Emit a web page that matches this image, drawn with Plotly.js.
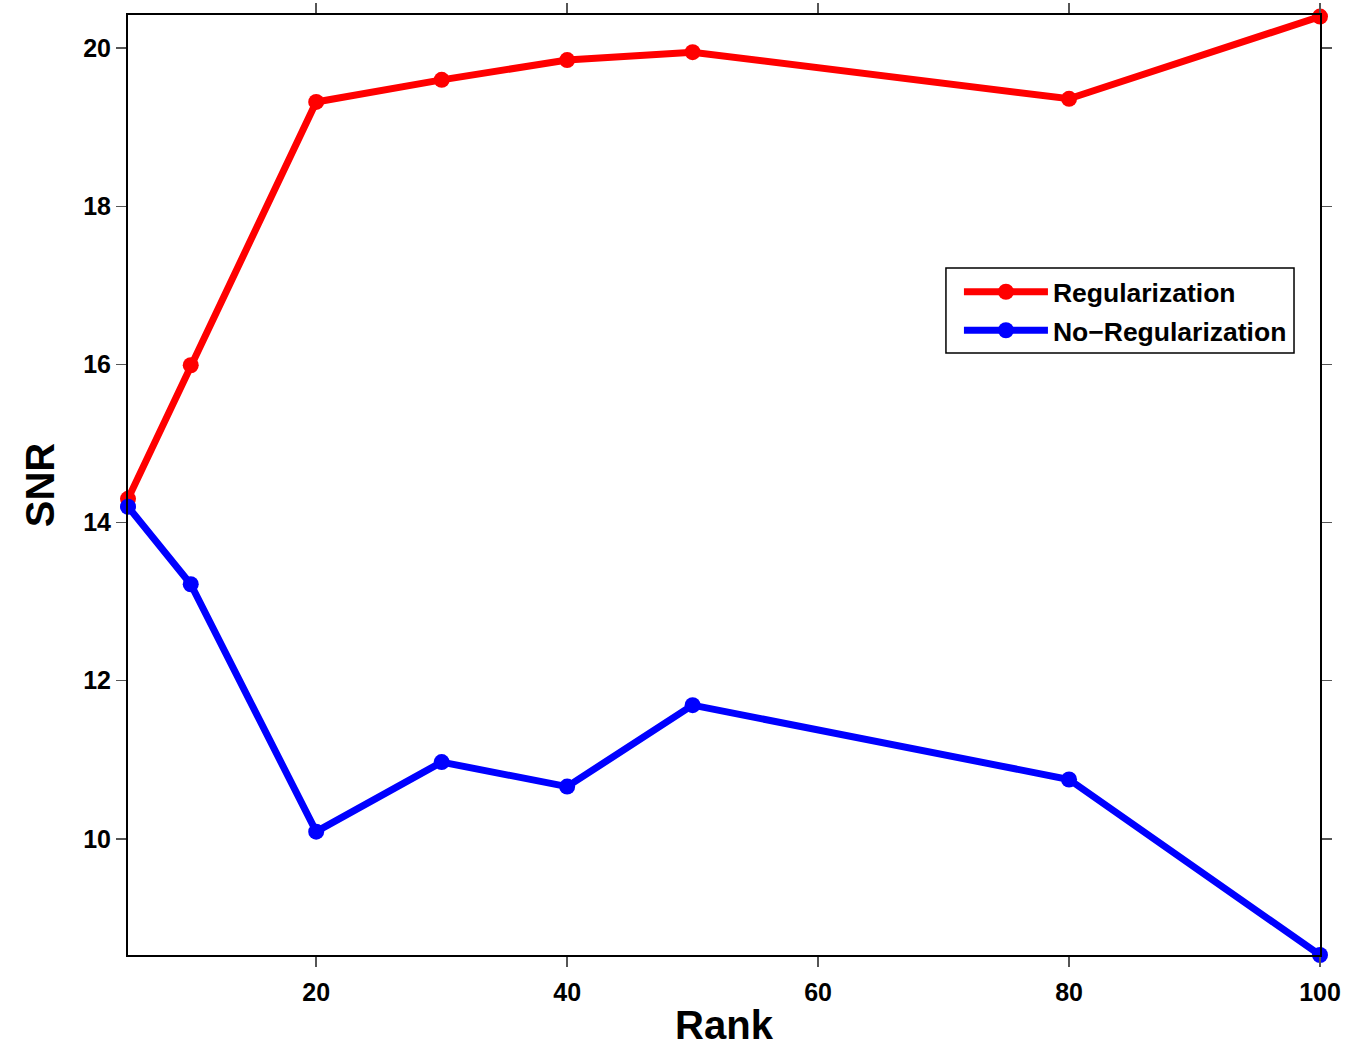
<!DOCTYPE html>
<html>
<head>
<meta charset="utf-8">
<script src="https://cdn.plot.ly/plotly-3.0.1.min.js"></script>
<style>
  html, body { margin: 0; padding: 0; background: #fff; }
  #chart { width: 1347px; height: 1047px; }
</style>
</head>
<body>
<div id="chart"></div>
<script>
// Rank values evaluated
const rank = [5, 10, 20, 30, 40, 50, 80, 100];
// SNR with and without regularization
const snrRegularized = [14.30, 15.99, 19.32, 19.60, 19.85, 19.95, 19.36, 20.40];
const snrUnregularized = [14.20, 13.22, 10.09, 10.97, 10.66, 11.69, 10.75, 8.53];
const seriesNames = ['Regularization', 'No\u2212Regularization'];
const xTicks = [20, 40, 60, 80, 100];
const yTicks = [10, 12, 14, 16, 18, 20];

const font = 'Liberation Sans, Arial, Helvetica, sans-serif';

const traces = [
  {
    x: rank, y: snrRegularized, name: seriesNames[0], legendgroup: 'reg',
    type: 'scatter', mode: 'lines+markers',
    line: { color: '#ff0000', width: 7 },
    marker: { color: '#ff0000', size: 16, symbol: 'circle' },
    cliponaxis: false
  },
  {
    x: rank, y: snrUnregularized, name: seriesNames[1], legendgroup: 'noreg',
    type: 'scatter', mode: 'lines+markers',
    line: { color: '#0000ff', width: 7 },
    marker: { color: '#0000ff', size: 16, symbol: 'circle' },
    cliponaxis: false
  }
];

const axisCommon = {
  showgrid: false, zeroline: false,
  showline: true, linecolor: '#000', linewidth: 2, mirror: 'ticks',
  ticks: 'outside', ticklen: 10, tickcolor: '#555', tickwidth: 1.5,
  tickfont: { family: font, size: 25, color: '#000', weight: 'bold' }
};

const layout = {
  width: 1347, height: 1047,
  margin: { l: 128, r: 27, t: 15, b: 92 },
  paper_bgcolor: '#fff', plot_bgcolor: '#fff',
  showlegend: true,
  xaxis: Object.assign({}, axisCommon, {
    range: [5, 100], tickvals: xTicks, ticktext: xTicks.map(String),
    ticklabelstandoff: 4,
    title: { text: 'Rank', font: { family: font, size: 40, color: '#000', weight: 'bold' }, standoff: 11 }
  }),
  yaxis: Object.assign({}, axisCommon, {
    range: [8.53, 20.42], tickvals: yTicks, ticktext: yTicks.map(String),
    title: { text: 'SNR', font: { family: font, size: 40, color: '#000', weight: 'bold' }, standoff: 16 }
  }),
  // legend frame
  shapes: [{
    type: 'rect', xref: 'paper', yref: 'paper',
    x0: 0.6862, x1: 0.9782, y0: 0.6404, y1: 0.7309,
    line: { color: '#000', width: 1.5 }, fillcolor: '#fff', layer: 'below'
  }],
  legend: {
    x: 0.6971, y: 0.7308, xanchor: 'left', yanchor: 'top',
    bgcolor: 'rgba(0,0,0,0)', borderwidth: 0,
    font: { family: font, size: 26.5, color: '#000', weight: 'bold' },
    itemwidth: 84, tracegroupgap: 1
  }
};

Plotly.newPlot('chart', traces, layout, { displayModeBar: false, staticPlot: true });
</script>
</body>
</html>
